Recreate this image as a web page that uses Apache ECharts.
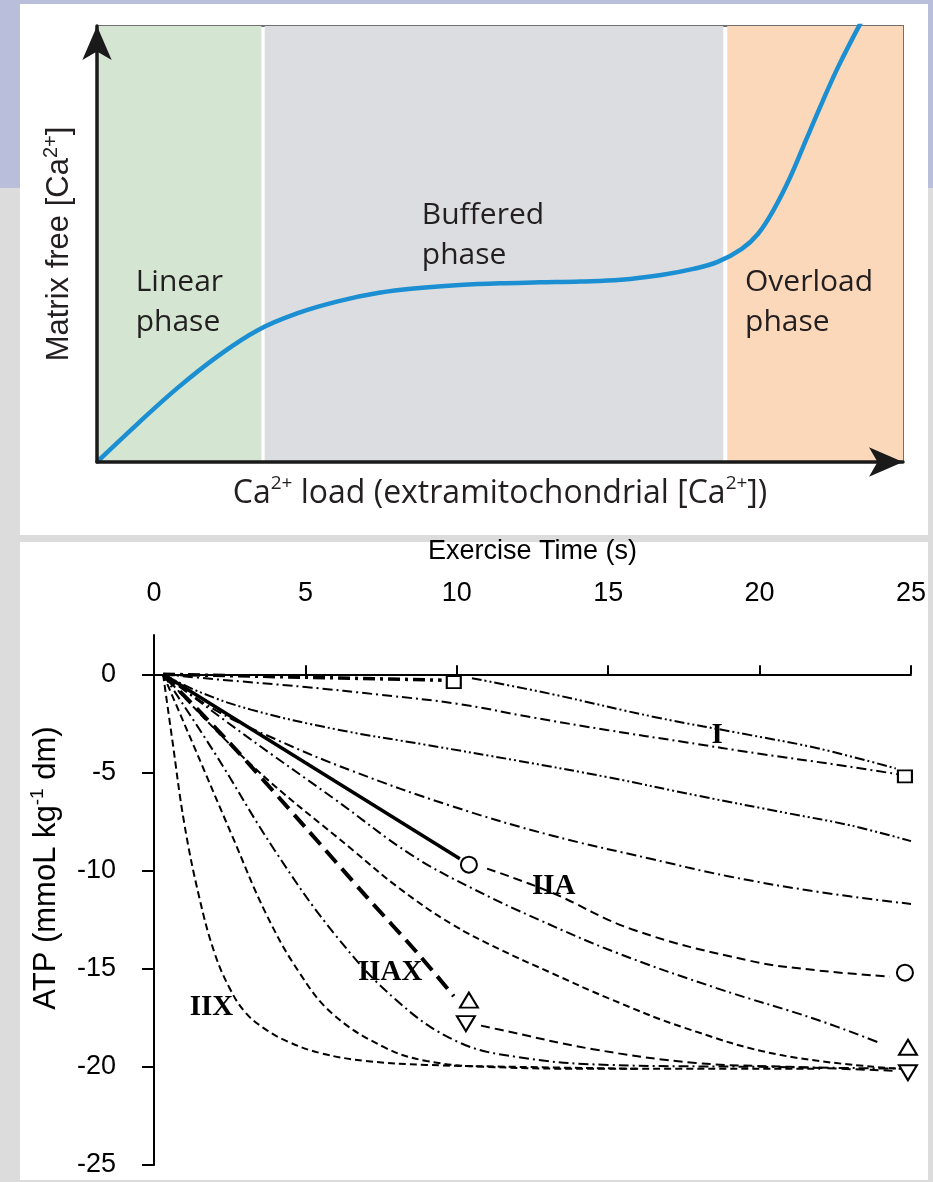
<!DOCTYPE html>
<html>
<head>
<meta charset="utf-8">
<title>Mitochondrial Ca2+ buffering / ATP during exercise</title>
<script src="https://cdn.jsdelivr.net/npm/echarts@6.0.0/dist/echarts.min.js"></script>
<style>
  html, body { margin: 0; padding: 0; }
  body { width: 933px; height: 1182px; background: #dcdcdc; position: relative; overflow: hidden; }
  /* slide backdrop */
  .band { position: absolute; left: 0; top: 0; width: 933px; height: 188px; background: #b9bedb; }
  .panel { position: absolute; left: 20px; width: 908px; background: #fff; }
  #panelTop { top: 4px; height: 531px; }
  #panelBottom { top: 542px; height: 638px; }
  #chart { position: absolute; left: 0; top: 0; width: 933px; height: 1182px; }
</style>
</head>
<body>
<div class="band"></div>
<div class="panel" id="panelTop"></div>
<div class="panel" id="panelBottom"></div>
<div id="chart"></div>
<script>
// ---------- top panel: schematic (arbitrary units 0-100) ----------
const phaseNames = ['Linear\nphase', 'Buffered\nphase', 'Overload\nphase'];
const phaseFrom = [0, 20.8, 78.2];
const phaseTo = [20.4, 77.7, 100];
// where each phase name sits (data units)
const phaseLabelX = [4.8, 40.3, 80.4];
const phaseLabelY = [36.5, 52.0, 36.5];

const caLoad = [0, 5, 10, 15, 20, 25, 30, 35, 40, 45, 50, 55, 60, 65, 70, 74, 77, 80, 82, 84, 86, 88, 90, 92, 94.8];
const matrixCa = [0, 8.7, 17.0, 24.3, 30.3, 34.2, 36.9, 38.8, 39.9, 40.6, 41.0, 41.2, 41.4, 41.8, 42.9, 44.3, 45.9, 48.9, 52.3, 58.0, 65.3, 74.0, 82.6, 90.8, 100.9];

// ---------- bottom panel: ATP (mmoL kg-1 dm) vs exercise time (s) ----------
const timeTicks = [0, 5, 10, 15, 20, 25];
const atpTicks = [0, -5, -10, -15, -20, -25];

// measured points
const typeIPoints = [[9.9, -0.4], [24.8, -5.2]];
const typeIIAPoints = [[10.4, -9.7], [24.8, -15.2]];
const typeIIAXUp = [[10.4, -16.6], [24.9, -19.0]];
const typeIIAXDown = [[10.3, -17.8], [24.9, -20.3]];

// lines joining the measured points
const typeIFirst = [[0.3, 0], [9.5, -0.3]];
const typeISecond = [[10.5, -0.2], [13.1, -1.0], [16.6, -2.2], [19.7, -3.1], [22.0, -3.8], [24.5, -4.8]];
const typeIIAFirst = [[0.3, 0], [10.1, -9.4]];
const typeIIASecond = [[11.0, -9.9], [13.1, -11.1], [15.8, -13.0], [19.7, -14.6], [22.0, -15.1], [24.3, -15.4]];
const typeIIAXFirst = [[0.3, 0], [2.5, -3.5], [5.0, -7.8], [7.0, -11.3], [8.7, -14.2], [9.9, -16.4]];
const typeIIAXSecond = [[10.8, -17.9], [11.4, -18.1], [14.5, -19.1], [17.9, -19.8], [21.0, -20.0], [24.5, -20.2]];

// model curves, slowest to fastest
const modelB = [[0.3, 0], [2.0, -0.25], [5.0, -0.65], [7.5, -1.05], [10.0, -1.5], [12.5, -2.2], [15.0, -2.85], [17.5, -3.45], [20.0, -4.05], [22.5, -4.6], [24.6, -5.1]];
const modelC = [[0.3, 0], [1.5, -0.9], [3.2, -1.8], [6.0, -2.8], [9.0, -3.6], [12.0, -4.4], [15.0, -5.25], [18.0, -6.2], [21.0, -7.1], [23.0, -7.7], [25.0, -8.5]];
const modelD = [[0.3, 0], [2.0, -1.8], [4.0, -3.3], [6.5, -4.9], [9.8, -6.7], [13.1, -8.2], [16.4, -9.4], [19.0, -10.3], [22.0, -11.1], [25.0, -11.7]];
const modelE = [[0.3, 0], [3.0, -3.1], [6.0, -6.4], [8.5, -9.2], [10.5, -10.9], [12.7, -12.5], [15.3, -14.2], [18.6, -16.0], [21.9, -17.6], [24.0, -18.8]];
const modelF = [[0.3, 0], [3.2, -4.6], [6.6, -9.0], [8.1, -10.9], [9.8, -12.7], [11.4, -14.0], [13.1, -15.2], [15.0, -16.5], [17.5, -18.0], [20.7, -19.4], [24.6, -20.1]];
const modelG = [[0.3, 0], [2.0, -4.0], [4.0, -9.0], [6.0, -13.3], [8.0, -16.6], [10.0, -18.7], [12.0, -19.5], [15.0, -19.9], [20.0, -20.0], [25.0, -20.1]];
const modelH = [[0.3, 0], [1.3, -3.6], [2.6, -8.3], [3.7, -12.2], [4.8, -15.2], [5.9, -17.3], [7.6, -19.0], [9.0, -19.7], [11.0, -20.0], [15.0, -20.1], [22.0, -20.1]];
const modelIIX = [[0.3, 0], [0.6, -3.3], [1.0, -7.6], [1.5, -11.4], [2.0, -14.2], [2.5, -16.0], [3.0, -17.2], [3.6, -18.0], [4.4, -18.7], [5.5, -19.3], [7.0, -19.7], [9.0, -19.9], [12.0, -20.0], [16.0, -20.1]];

// fibre type names and where they are written
const fibreNames = ['I', 'IIA', 'IIAX', 'IIX'];
const fibreLabelX = [18.6, 13.2, 7.8, 1.9];
const fibreLabelY = [-3.1, -10.8, -15.2, -17.0];

// ---------- styles ----------
const phaseColors = ['#d4e6d1', '#dcdde0', '#fcd8bb'];
const INK = '#000';
const sansSchematic = '"Open Sans", "Noto Sans", sans-serif';
const sansArial = '"Liberation Sans", Arial, sans-serif';

const chart = echarts.init(document.getElementById('chart'), null, { renderer: 'canvas' });

// thin model line helper
function modelLine(data, dash) {
  return {
    type: 'line', xAxisIndex: 1, yAxisIndex: 1, data: data,
    smooth: 0.4, showSymbol: false, silent: true,
    lineStyle: { color: INK, width: 2, type: dash }
  };
}
// hollow marker helper
function markers(data, symbol, size, rotate) {
  return {
    type: 'scatter', xAxisIndex: 1, yAxisIndex: 1, data: data,
    symbol: symbol, symbolSize: size, symbolRotate: rotate || 0, silent: true, z: 5,
    itemStyle: { color: '#fff', borderColor: INK, borderWidth: 2, opacity: 1 }
  };
}

const dashDot = [10, 4, 2, 4];
const dashDotDot = [10, 3, 2, 3, 2, 3];
const dashed = [7, 4];

const option = {
  animation: false,
  backgroundColor: 'transparent',
  grid: [
    { left: 97, right: 30, top: 26, bottom: 720, show: true, borderColor: '#707070', borderWidth: 2, backgroundColor: 'transparent' },
    { left: 154, right: 22, top: 635, bottom: 17 }
  ],
  xAxis: [
    {
      gridIndex: 0, type: 'value', min: 0, max: 100, z: 10,
      axisLine: { show: true, symbol: ['none', 'arrow'], symbolSize: [22, 34], lineStyle: { color: '#1a1a1a', width: 3.5 } },
      axisTick: { show: false }, axisLabel: { show: false }, splitLine: { show: false },
      name: 'Ca{sup|2+} load (extramitochondrial [Ca{sup|2+}])',
      nameLocation: 'middle', nameGap: 12,
      nameTextStyle: {
        fontFamily: sansSchematic, fontSize: 32, color: '#231f20', lineHeight: 40,
        rich: { sup: { fontFamily: sansSchematic, fontSize: 19, color: '#231f20', verticalAlign: 'top', lineHeight: 22 } }
      }
    },
    {
      gridIndex: 1, type: 'value', position: 'top', offset: 14, min: 0, max: 25, interval: 5,
      axisLine: { show: true, lineStyle: { color: INK, width: 2 } },
      axisTick: { show: true, length: 9, lineStyle: { color: INK, width: 2 } },
      splitLine: { show: false },
      axisLabel: { fontFamily: sansArial, fontSize: 27, color: INK, margin: 14 },
      name: 'Exercise Time (s)', nameLocation: 'middle', nameGap: 56,
      nameTextStyle: { fontFamily: sansArial, fontSize: 27, color: INK }
    }
  ],
  yAxis: [
    {
      gridIndex: 0, type: 'value', min: 0, max: 100, z: 10,
      axisLine: { show: true, symbol: ['none', 'arrow'], symbolSize: [22, 34], lineStyle: { color: '#1a1a1a', width: 3.5 } },
      axisTick: { show: false }, axisLabel: { show: false }, splitLine: { show: false },
      name: 'Matrix free [Ca{sup|2+}]',
      nameLocation: 'middle', nameRotate: 90, nameGap: 20,
      nameTextStyle: {
        fontFamily: sansArial, fontSize: 31, color: '#231f20', lineHeight: 36,
        rich: { sup: { fontFamily: sansArial, fontSize: 20, color: '#231f20', verticalAlign: 'top', lineHeight: 20 } }
      }
    },
    {
      gridIndex: 1, type: 'value', min: -25, max: 2, interval: 5, offset: 10,
      axisLine: { show: true, lineStyle: { color: INK, width: 2 } },
      axisTick: { show: true, length: 12, customValues: atpTicks, lineStyle: { color: INK, width: 2 } },
      splitLine: { show: false },
      axisLabel: { customValues: atpTicks, fontFamily: sansArial, fontSize: 27, color: INK, margin: 28 },
      name: 'ATP (mmoL kg{sup|-1} dm)', nameLocation: 'middle', nameRotate: 90, nameGap: 80,
      nameTextStyle: {
        fontFamily: sansArial, fontSize: 31, color: INK, lineHeight: 36, padding: [0, 0, 0, 64],
        rich: { sup: { fontFamily: sansArial, fontSize: 19, color: INK, verticalAlign: 'top', lineHeight: 20 } }
      }
    }
  ],
  series: [
    // top panel: Ca2+ curve with coloured phases behind it
    {
      type: 'line', xAxisIndex: 0, yAxisIndex: 0,
      data: caLoad.map((x, i) => [x, matrixCa[i]]),
      smooth: 0.4, showSymbol: false, silent: true, clip: true, z: 3,
      lineStyle: { color: '#1b8fd2', width: 4.5 },
      markArea: {
        silent: true,
        data: phaseNames.map((n, i) => [
          { xAxis: phaseFrom[i], itemStyle: { color: phaseColors[i] } },
          { xAxis: phaseTo[i] }
        ])
      }
    },
    {
      type: 'scatter', xAxisIndex: 0, yAxisIndex: 0, symbolSize: 0, silent: true, z: 4,
      itemStyle: { opacity: 1 },
      data: phaseNames.map((n, i) => ({ name: n, value: [phaseLabelX[i], phaseLabelY[i]] })),
      label: {
        show: true, position: 'right', distance: 0, formatter: '{b}',
        fontFamily: sansSchematic, fontSize: 30, lineHeight: 40, color: '#231f20', align: 'left'
      }
    },

    // bottom panel: model curves
    modelLine(modelB, dashDot),
    modelLine(modelC, dashDotDot),
    modelLine(modelD, dashDot),
    modelLine(modelE, dashDot),
    modelLine(modelF, dashed),
    modelLine(modelG, dashDot),
    modelLine(modelH, dashed),
    modelLine(modelIIX, dashed),

    // lines through measured points
    {
      type: 'line', xAxisIndex: 1, yAxisIndex: 1, data: typeIFirst, showSymbol: false, silent: true,
      lineStyle: { color: INK, width: 3.5, type: [12, 5, 3, 5] }
    },
    modelLine(typeISecond, dashDotDot),
    {
      type: 'line', xAxisIndex: 1, yAxisIndex: 1, data: typeIIAFirst, showSymbol: false, silent: true,
      lineStyle: { color: INK, width: 3.5 }
    },
    modelLine(typeIIASecond, [9, 5]),
    {
      type: 'line', xAxisIndex: 1, yAxisIndex: 1, data: typeIIAXFirst, smooth: 0.3, showSymbol: false, silent: true,
      lineStyle: { color: INK, width: 4, type: [16, 8] }
    },
    modelLine(typeIIAXSecond, [9, 5]),

    // markers
    markers(typeIPoints, 'rect', [14, 12]),
    markers(typeIIAPoints, 'circle', 16),
    markers(typeIIAXUp, 'triangle', [18, 15]),
    markers(typeIIAXDown, 'triangle', [18, 15], 180),

    // fibre type names
    {
      type: 'scatter', xAxisIndex: 1, yAxisIndex: 1, symbolSize: 0, silent: true, z: 6,
      itemStyle: { opacity: 1 },
      data: fibreNames.map((n, i) => ({ name: n, value: [fibreLabelX[i], fibreLabelY[i]] })),
      label: {
        show: true, position: 'inside', formatter: '{b}',
        fontFamily: '"Liberation Serif", "Times New Roman", serif', fontWeight: 'bold', fontSize: 29, color: INK
      }
    }
  ]
};

chart.setOption(option);
</script>
</body>
</html>
